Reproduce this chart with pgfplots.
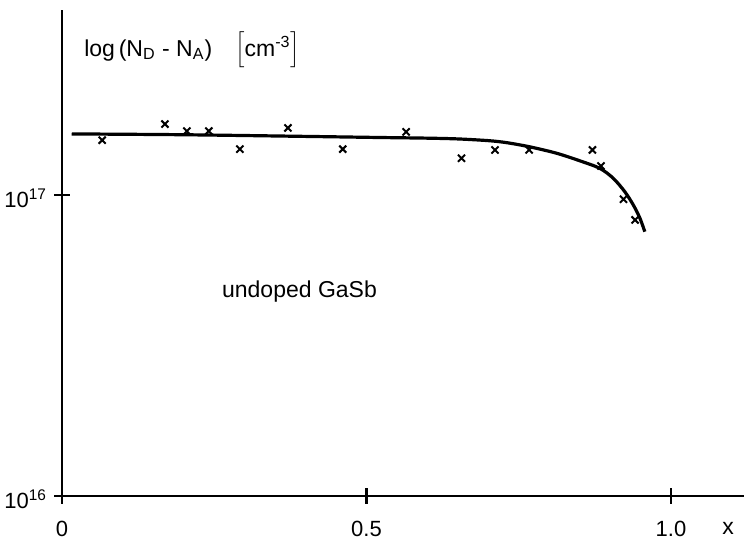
\documentclass[border=0pt]{standalone}
\usepackage{fontspec}
\setmainfont{Liberation Sans}
\usepackage{pgfplots}
\pgfplotsset{compat=1.18}
\begin{document}
\begin{tikzpicture}[x=1pt,y=1pt]
\begin{axis}[
  at={(31pt,22pt)}, anchor=south west,
  scale only axis, width=341pt, height=243pt,
  xmin=0, xmax=1.1199,
  ymode=log, ymin=1e16, ymax=4.118e17,
  axis lines=left, axis line style={-, line width=0.6pt},
  xtick={0,0.5,1}, xticklabels={0,0.5,1.0},
  ytick={1e16,1e17}, yticklabels={{10\textsuperscript{16}},{10\textsuperscript{17}}},
  yminorticks=false,
  tick align=center, major tick length=8pt,
  every tick/.style={black, line width=1.2pt},
  ticklabel style={font=\fontsize{11}{13}\selectfont},
  xticklabel style={anchor=center, yshift=-12.5pt, inner sep=1pt},
  yticklabel style={yshift=-1.5pt},
  /pgf/number format/assume math mode=true,
  clip=false,
]
% fitted curve
\addplot[smooth, line width=1.6pt] coordinates {
 (0.016,1.595e17) (0.2,1.585e17) (0.4,1.565e17) (0.52,1.552e17) (0.6,1.544e17)
 (0.65,1.535e17) (0.70,1.515e17) (0.73,1.492e17) (0.768,1.445e17) (0.812,1.376e17)
 (0.851,1.297e17) (0.883,1.226e17) (0.905,1.137e17) (0.924,1.026e17)
 (0.938,0.927e17) (0.949,0.837e17) (0.957,0.755e17)
};
% measured points
\addplot[only marks, mark=x, mark size=2.5pt, line width=1pt] coordinates {
 (0.066,1.52e17) (0.169,1.72e17) (0.205,1.63e17) (0.241,1.63e17) (0.292,1.42e17)
 (0.371,1.67e17) (0.461,1.42e17) (0.565,1.62e17) (0.656,1.324e17) (0.711,1.411e17)
 (0.767,1.411e17) (0.871,1.411e17) (0.885,1.248e17) (0.922,0.968e17) (0.941,0.826e17)
};
\node[anchor=west, font=\fontsize{11.5}{13}\selectfont] at (axis cs:0.025,3.03e17)
  {log\,(N\textsubscript{D} - N\textsubscript{A})\quad$\Big[$cm\textsuperscript{-3}$\Big]$};
\node[font=\fontsize{11.5}{13}\selectfont] at (axis cs:0.39,4.76e16) {undoped GaSb};
\node[font=\fontsize{11.5}{13}\selectfont, inner sep=1pt, yshift=-16pt] at (axis cs:1.094,1e16) {x};
\end{axis}
\pgfresetboundingbox
\path (0,0) rectangle (372,270);
\end{tikzpicture}
\end{document}
